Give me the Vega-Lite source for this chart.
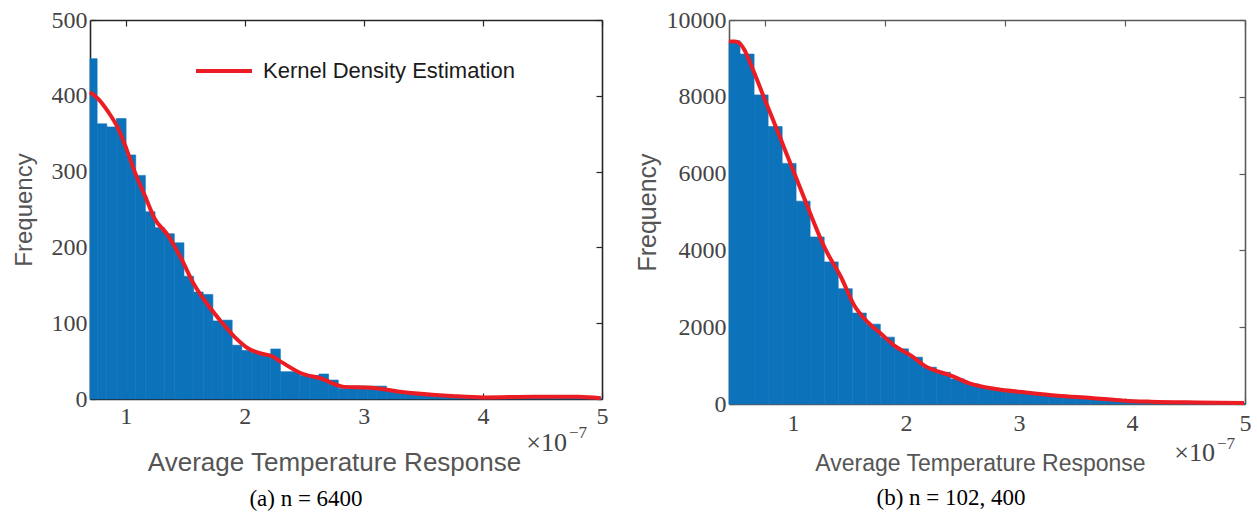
{
  "$schema": "https://vega.github.io/schema/vega-lite/v6.json",
  "background": "white",
  "padding": {"left": 12, "top": 8, "right": 2, "bottom": 5},
  "spacing": 127,
  "bounds": "flush",
  "config": {
    "view": {"stroke": null},
    "axis": {"grid": false, "labelFont": "Liberation Serif", "titleFont": "Liberation Sans", "titleFontWeight": "normal", "labelFlush": false, "labelOverlap": false}
  },
  "hconcat": [
    {
      "width": 512,
      "height": 379,
      "title": {"text": "(a) n = 6400", "orient": "bottom", "font": "Liberation Serif", "fontSize": 23, "fontWeight": "normal", "color": "black", "dx": -40, "offset": 13},
      "layer": [
        {
          "data": {"values": [
            {"start": 0.7, "end": 0.76, "count": 449},
            {"start": 0.76, "end": 0.841, "count": 363},
            {"start": 0.841, "end": 0.922, "count": 359},
            {"start": 0.922, "end": 1.003, "count": 370},
            {"start": 1.003, "end": 1.084, "count": 322},
            {"start": 1.084, "end": 1.165, "count": 295},
            {"start": 1.165, "end": 1.246, "count": 247},
            {"start": 1.246, "end": 1.327, "count": 226},
            {"start": 1.327, "end": 1.408, "count": 218},
            {"start": 1.408, "end": 1.489, "count": 206},
            {"start": 1.489, "end": 1.57, "count": 162},
            {"start": 1.57, "end": 1.651, "count": 141},
            {"start": 1.651, "end": 1.732, "count": 138},
            {"start": 1.732, "end": 1.813, "count": 103},
            {"start": 1.813, "end": 1.894, "count": 104},
            {"start": 1.894, "end": 1.975, "count": 71},
            {"start": 1.975, "end": 2.056, "count": 64},
            {"start": 2.056, "end": 2.137, "count": 61},
            {"start": 2.137, "end": 2.218, "count": 58},
            {"start": 2.218, "end": 2.299, "count": 66},
            {"start": 2.299, "end": 2.38, "count": 36},
            {"start": 2.38, "end": 2.461, "count": 36},
            {"start": 2.461, "end": 2.542, "count": 31},
            {"start": 2.542, "end": 2.623, "count": 31},
            {"start": 2.623, "end": 2.704, "count": 33},
            {"start": 2.704, "end": 2.785, "count": 25},
            {"start": 2.785, "end": 2.866, "count": 14},
            {"start": 2.866, "end": 2.947, "count": 17},
            {"start": 2.947, "end": 3.028, "count": 17},
            {"start": 3.028, "end": 3.109, "count": 17},
            {"start": 3.109, "end": 3.19, "count": 17},
            {"start": 3.19, "end": 3.271, "count": 12},
            {"start": 3.271, "end": 3.352, "count": 8},
            {"start": 3.352, "end": 3.433, "count": 7},
            {"start": 3.433, "end": 3.514, "count": 7},
            {"start": 3.514, "end": 3.595, "count": 6},
            {"start": 3.595, "end": 3.676, "count": 5},
            {"start": 3.676, "end": 3.757, "count": 5},
            {"start": 3.757, "end": 3.838, "count": 4},
            {"start": 3.838, "end": 3.919, "count": 4},
            {"start": 3.919, "end": 4.0, "count": 3},
            {"start": 4.0, "end": 4.081, "count": 3},
            {"start": 4.081, "end": 4.162, "count": 2},
            {"start": 4.162, "end": 4.243, "count": 2},
            {"start": 4.243, "end": 4.324, "count": 3},
            {"start": 4.324, "end": 4.405, "count": 2},
            {"start": 4.405, "end": 4.486, "count": 2},
            {"start": 4.486, "end": 4.567, "count": 2},
            {"start": 4.567, "end": 4.648, "count": 1},
            {"start": 4.648, "end": 4.729, "count": 2},
            {"start": 4.729, "end": 4.81, "count": 2},
            {"start": 4.81, "end": 4.891, "count": 1},
            {"start": 4.891, "end": 4.972, "count": 2},
            {"start": 4.972, "end": 5.0, "count": 1}
          ]},
          "mark": {"type": "rect", "color": "#0C72BA", "stroke": "#0C72BA", "strokeWidth": 0.6},
          "encoding": {
            "x": {"field": "start", "type": "quantitative", "scale": {"domain": [0.7, 5], "nice": false, "zero": false},
              "axis": {"orient": "bottom", "values": [1, 2, 3, 4, 5], "format": "d", "title": "Average Temperature Response", "titleX": 244, "titleFontSize": 26, "titleColor": "#555555", "titlePadding": 21, "labelFontSize": 24, "labelColor": "#444444", "labelPadding": 11, "tickSize": -6, "tickColor": "#262626", "tickWidth": 1.2, "domainColor": "#262626", "domainWidth": 1.6}},
            "x2": {"field": "end"},
            "y": {"field": "count", "type": "quantitative", "scale": {"domain": [0, 500], "nice": false},
              "axis": {"orient": "left", "values": [0, 100, 200, 300, 400, 500], "title": "Frequency", "titleFontSize": 24, "titleColor": "#555555", "titlePadding": 15, "labelFontSize": 24, "labelColor": "#444444", "labelPadding": 9, "tickSize": -6, "tickColor": "#262626", "tickWidth": 1.2, "domainColor": "#262626", "domainWidth": 1.6}},
            "y2": {"datum": 0}
          }
        },
        {
          "data": {"values": [
            {"x": 0.7, "density": 405, "series": "Kernel Density Estimation"},
            {"x": 0.769, "density": 396, "series": "Kernel Density Estimation"},
            {"x": 0.852, "density": 379, "series": "Kernel Density Estimation"},
            {"x": 0.936, "density": 357, "series": "Kernel Density Estimation"},
            {"x": 1.006, "density": 330, "series": "Kernel Density Estimation"},
            {"x": 1.075, "density": 300, "series": "Kernel Density Estimation"},
            {"x": 1.159, "density": 269, "series": "Kernel Density Estimation"},
            {"x": 1.243, "density": 238, "series": "Kernel Density Estimation"},
            {"x": 1.355, "density": 216, "series": "Kernel Density Estimation"},
            {"x": 1.467, "density": 185, "series": "Kernel Density Estimation"},
            {"x": 1.578, "density": 150, "series": "Kernel Density Estimation"},
            {"x": 1.691, "density": 124, "series": "Kernel Density Estimation"},
            {"x": 1.802, "density": 102, "series": "Kernel Density Estimation"},
            {"x": 1.914, "density": 82, "series": "Kernel Density Estimation"},
            {"x": 2.026, "density": 67, "series": "Kernel Density Estimation"},
            {"x": 2.137, "density": 60, "series": "Kernel Density Estimation"},
            {"x": 2.221, "density": 57, "series": "Kernel Density Estimation"},
            {"x": 2.305, "density": 49, "series": "Kernel Density Estimation"},
            {"x": 2.473, "density": 34, "series": "Kernel Density Estimation"},
            {"x": 2.64, "density": 27, "series": "Kernel Density Estimation"},
            {"x": 2.836, "density": 16, "series": "Kernel Density Estimation"},
            {"x": 3.061, "density": 15, "series": "Kernel Density Estimation"},
            {"x": 3.283, "density": 10, "series": "Kernel Density Estimation"},
            {"x": 3.736, "density": 4, "series": "Kernel Density Estimation"},
            {"x": 4.009, "density": 2, "series": "Kernel Density Estimation"},
            {"x": 4.426, "density": 3, "series": "Kernel Density Estimation"},
            {"x": 4.8, "density": 3, "series": "Kernel Density Estimation"},
            {"x": 4.99, "density": 1, "series": "Kernel Density Estimation"}
          ]},
          "mark": {"type": "line", "strokeWidth": 4, "interpolate": "monotone"},
          "encoding": {
            "x": {"field": "x", "type": "quantitative", "scale": {"domain": [0.7, 5], "nice": false, "zero": false},
              "axis": {"orient": "top", "values": [1, 2, 3, 4, 5], "labels": false, "title": null, "tickSize": -6, "tickColor": "#262626", "tickWidth": 1.2, "domainColor": "#262626", "domainWidth": 1.6}},
            "y": {"field": "density", "type": "quantitative", "scale": {"domain": [0, 500], "nice": false},
              "axis": {"orient": "right", "values": [0, 100, 200, 300, 400, 500], "labels": false, "title": null, "tickSize": -6, "tickColor": "#262626", "tickWidth": 1.2, "domainColor": "#262626", "domainWidth": 1.6}},
            "color": {"field": "series", "type": "nominal", "scale": {"range": ["#EC1C24"]},
              "legend": {"orient": "none", "legendX": 104, "legendY": 21, "title": null, "symbolType": "stroke", "symbolSize": 3136, "symbolStrokeWidth": 4, "labelFont": "Liberation Sans", "labelFontSize": 22, "labelLimit": 500, "labelColor": "#1a1a1a", "labelOffset": 9, "padding": 0}}
          }
        },
        {
          "data": {"values": [{"x": 5, "y": 0, "t": "×10"}]},
          "mark": {"type": "text", "align": "right", "baseline": "middle", "dx": -35, "dy": 44, "font": "Liberation Serif", "fontSize": 26, "color": "#444444"},
          "encoding": {
            "x": {"field": "x", "type": "quantitative", "scale": {"domain": [0.7, 5], "nice": false, "zero": false}, "axis": null},
            "y": {"field": "y", "type": "quantitative", "scale": {"domain": [0, 500], "nice": false}, "axis": null},
            "text": {"field": "t"}
          }
        },
        {
          "data": {"values": [{"x": 5, "y": 0, "t": "−7"}]},
          "mark": {"type": "text", "align": "left", "baseline": "middle", "dx": -33, "dy": 34, "font": "Liberation Serif", "fontSize": 17, "color": "#444444"},
          "encoding": {
            "x": {"field": "x", "type": "quantitative", "scale": {"domain": [0.7, 5], "nice": false, "zero": false}, "axis": null},
            "y": {"field": "y", "type": "quantitative", "scale": {"domain": [0, 500], "nice": false}, "axis": null},
            "text": {"field": "t"}
          }
        }
      ],
      "resolve": {"axis": {"x": "independent", "y": "independent"}}
    },
    {
      "width": 516,
      "height": 384,
      "title": {"text": "(b) n = 102, 400", "orient": "bottom", "font": "Liberation Serif", "fontSize": 23, "fontWeight": "normal", "color": "black", "dx": -36, "offset": 12},
      "layer": [
        {
          "data": {"values": [
            {"start": 0.7, "end": 0.792, "count": 9460},
            {"start": 0.792, "end": 0.909, "count": 9112},
            {"start": 0.909, "end": 1.026, "count": 8050},
            {"start": 1.026, "end": 1.143, "count": 7224},
            {"start": 1.143, "end": 1.259, "count": 6266},
            {"start": 1.259, "end": 1.376, "count": 5282},
            {"start": 1.376, "end": 1.493, "count": 4350},
            {"start": 1.493, "end": 1.61, "count": 3700},
            {"start": 1.61, "end": 1.727, "count": 3003},
            {"start": 1.727, "end": 1.844, "count": 2368},
            {"start": 1.844, "end": 1.961, "count": 2080},
            {"start": 1.961, "end": 2.078, "count": 1741},
            {"start": 2.078, "end": 2.195, "count": 1436},
            {"start": 2.195, "end": 2.312, "count": 1219},
            {"start": 2.312, "end": 2.428, "count": 958},
            {"start": 2.428, "end": 2.545, "count": 827},
            {"start": 2.545, "end": 2.662, "count": 653},
            {"start": 2.662, "end": 2.779, "count": 522},
            {"start": 2.779, "end": 2.896, "count": 436},
            {"start": 2.896, "end": 3.013, "count": 380},
            {"start": 3.013, "end": 3.13, "count": 320},
            {"start": 3.13, "end": 3.247, "count": 275},
            {"start": 3.247, "end": 3.364, "count": 235},
            {"start": 3.364, "end": 3.481, "count": 200},
            {"start": 3.481, "end": 3.597, "count": 170},
            {"start": 3.597, "end": 3.714, "count": 145},
            {"start": 3.714, "end": 3.831, "count": 125},
            {"start": 3.831, "end": 3.948, "count": 105},
            {"start": 3.948, "end": 4.065, "count": 88},
            {"start": 4.065, "end": 4.182, "count": 74},
            {"start": 4.182, "end": 4.299, "count": 62},
            {"start": 4.299, "end": 4.416, "count": 52},
            {"start": 4.416, "end": 4.532, "count": 44},
            {"start": 4.532, "end": 4.649, "count": 37},
            {"start": 4.649, "end": 4.766, "count": 31},
            {"start": 4.766, "end": 4.883, "count": 26},
            {"start": 4.883, "end": 5.0, "count": 22}
          ]},
          "mark": {"type": "rect", "color": "#0C72BA", "stroke": "#0C72BA", "strokeWidth": 0.6},
          "encoding": {
            "x": {"field": "start", "type": "quantitative", "scale": {"domain": [0.7, 5], "nice": false, "zero": false},
              "axis": {"orient": "bottom", "values": [1, 2, 3, 4, 5], "format": "d", "title": "Average Temperature Response", "titleX": 251, "titleFontSize": 23, "titleColor": "#555555", "titlePadding": 17, "labelFontSize": 24, "labelColor": "#444444", "labelPadding": 13, "tickSize": -6, "tickColor": "#5a5a5a", "tickWidth": 1.2, "domainColor": "#5a5a5a", "domainWidth": 1.6,
                "labelOffset": {"condition": [{"test": "datum.value == 1", "value": 28}, {"test": "datum.value == 2", "value": 21}, {"test": "datum.value == 3", "value": 14}, {"test": "datum.value == 4", "value": 7}], "value": 0}}},
            "x2": {"field": "end"},
            "y": {"field": "count", "type": "quantitative", "scale": {"domain": [0, 10000], "nice": false},
              "axis": {"orient": "left", "values": [0, 2000, 4000, 6000, 8000, 10000], "format": "d", "title": "Frequency", "titleFontSize": 25, "titleColor": "#555555", "titlePadding": 6, "labelFontSize": 24, "labelColor": "#444444", "labelPadding": 9, "tickSize": -6, "tickColor": "#5a5a5a", "tickWidth": 1.2, "domainColor": "#5a5a5a", "domainWidth": 1.6}},
            "y2": {"datum": 0}
          }
        },
        {
          "data": {"values": [
            {"x": 0.7, "density": 9440, "series": "Kernel Density Estimation"},
            {"x": 0.75, "density": 9440, "series": "Kernel Density Estimation"},
            {"x": 0.786, "density": 9400, "series": "Kernel Density Estimation"},
            {"x": 0.828, "density": 9225, "series": "Kernel Density Estimation"},
            {"x": 0.883, "density": 8833, "series": "Kernel Density Estimation"},
            {"x": 0.994, "density": 7963, "series": "Kernel Density Estimation"},
            {"x": 1.106, "density": 7094, "series": "Kernel Density Estimation"},
            {"x": 1.217, "density": 6222, "series": "Kernel Density Estimation"},
            {"x": 1.328, "density": 5352, "series": "Kernel Density Estimation"},
            {"x": 1.383, "density": 4917, "series": "Kernel Density Estimation"},
            {"x": 1.5, "density": 4050, "series": "Kernel Density Estimation"},
            {"x": 1.633, "density": 3308, "series": "Kernel Density Estimation"},
            {"x": 1.744, "density": 2567, "series": "Kernel Density Estimation"},
            {"x": 1.856, "density": 2133, "series": "Kernel Density Estimation"},
            {"x": 1.967, "density": 1828, "series": "Kernel Density Estimation"},
            {"x": 2.078, "density": 1522, "series": "Kernel Density Estimation"},
            {"x": 2.217, "density": 1261, "series": "Kernel Density Estimation"},
            {"x": 2.328, "density": 1000, "series": "Kernel Density Estimation"},
            {"x": 2.55, "density": 739, "series": "Kernel Density Estimation"},
            {"x": 2.717, "density": 522, "series": "Kernel Density Estimation"},
            {"x": 2.883, "density": 410, "series": "Kernel Density Estimation"},
            {"x": 2.967, "density": 373, "series": "Kernel Density Estimation"},
            {"x": 3.161, "density": 305, "series": "Kernel Density Estimation"},
            {"x": 3.439, "density": 217, "series": "Kernel Density Estimation"},
            {"x": 3.717, "density": 157, "series": "Kernel Density Estimation"},
            {"x": 3.994, "density": 87, "series": "Kernel Density Estimation"},
            {"x": 4.217, "density": 61, "series": "Kernel Density Estimation"},
            {"x": 4.6, "density": 40, "series": "Kernel Density Estimation"},
            {"x": 4.992, "density": 26, "series": "Kernel Density Estimation"}
          ]},
          "mark": {"type": "line", "strokeWidth": 4, "interpolate": "monotone"},
          "encoding": {
            "x": {"field": "x", "type": "quantitative", "scale": {"domain": [0.7, 5], "nice": false, "zero": false},
              "axis": {"orient": "top", "values": [1, 2, 3, 4, 5], "labels": false, "title": null, "tickSize": -6, "tickColor": "#5a5a5a", "tickWidth": 1.2, "domainColor": "#5a5a5a", "domainWidth": 1.6}},
            "y": {"field": "density", "type": "quantitative", "scale": {"domain": [0, 10000], "nice": false},
              "axis": {"orient": "right", "values": [0, 2000, 4000, 6000, 8000, 10000], "labels": false, "title": null, "tickSize": -6, "tickColor": "#5a5a5a", "tickWidth": 1.2, "domainColor": "#5a5a5a", "domainWidth": 1.6}},
            "color": {"field": "series", "type": "nominal", "scale": {"range": ["#EC1C24"]},
              "legend": {"orient": "none", "legendX": 124, "legendY": 21, "title": null, "symbolType": "stroke", "symbolSize": 3136, "symbolStrokeWidth": 4, "labelFont": "Liberation Sans", "labelFontSize": 22, "labelLimit": 500, "labelColor": "#1a1a1a", "labelOffset": 9, "padding": 0}}
          }
        },
        {
          "data": {"values": [{"x": 5, "y": 0, "t": "×10"}]},
          "mark": {"type": "text", "align": "right", "baseline": "middle", "dx": -30, "dy": 49, "font": "Liberation Serif", "fontSize": 26, "color": "#444444"},
          "encoding": {
            "x": {"field": "x", "type": "quantitative", "scale": {"domain": [0.7, 5], "nice": false, "zero": false}, "axis": null},
            "y": {"field": "y", "type": "quantitative", "scale": {"domain": [0, 10000], "nice": false}, "axis": null},
            "text": {"field": "t"}
          }
        },
        {
          "data": {"values": [{"x": 5, "y": 0, "t": "−7"}]},
          "mark": {"type": "text", "align": "left", "baseline": "middle", "dx": -28, "dy": 40, "font": "Liberation Serif", "fontSize": 17, "color": "#444444"},
          "encoding": {
            "x": {"field": "x", "type": "quantitative", "scale": {"domain": [0.7, 5], "nice": false, "zero": false}, "axis": null},
            "y": {"field": "y", "type": "quantitative", "scale": {"domain": [0, 10000], "nice": false}, "axis": null},
            "text": {"field": "t"}
          }
        }
      ],
      "resolve": {"axis": {"x": "independent", "y": "independent"}}
    }
  ]
}
